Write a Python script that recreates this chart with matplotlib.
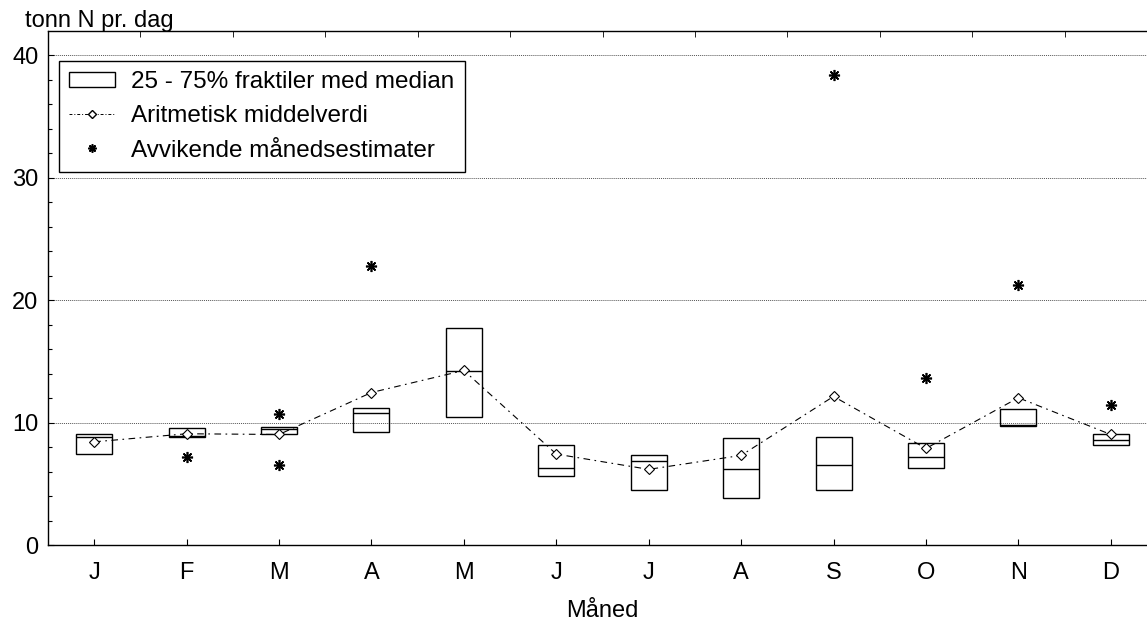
import matplotlib
matplotlib.use("Agg")
import matplotlib.pyplot as plt
from matplotlib.patches import Rectangle
from matplotlib.lines import Line2D
import numpy as np

plt.rcParams['font.family'] = ['Liberation Sans', 'DejaVu Sans']

months = ["J", "F", "M", "A", "M", "J", "J", "A", "S", "O", "N", "D"]
q25 = [7.40, 8.84, 9.03, 9.25, 10.42, 5.63, 4.49, 3.81, 4.52, 6.29, 9.72, 8.16]
median = [8.79, 8.90, 9.44, 10.80, 14.23, 6.31, 6.83, 6.18, 6.50, 7.21, 9.80, 8.57]
q75 = [9.06, 9.60, 9.63, 11.21, 17.77, 8.19, 7.32, 8.71, 8.82, 8.35, 11.13, 9.03]
mean = [8.43, 9.09, 9.03, 12.46, 14.26, 7.43, 6.18, 7.32, 12.14, 7.89, 12.03, 9.03]
outlier_month = [1, 2, 2, 3, 8, 9, 10, 11]
outlier_value = [7.18, 10.67, 6.53, 22.78, 38.37, 13.66, 21.28, 11.40]

FS = 17
fig = plt.figure(figsize=(11.47, 6.21), dpi=100)
ax = fig.add_axes([48/1147, 1-545/621, 1109/1147, 514/621])

x = np.arange(len(months))
w = 0.39
ax.bar(x, np.array(q75) - np.array(q25), bottom=q25, width=w, fill=False,
       edgecolor='black', linewidth=1.0, zorder=3)
ax.hlines(median, x - w/2, x + w/2, colors='black', linewidth=1.0, zorder=3)
ax.plot(x, mean, color='black', linestyle=(0, (6, 4, 1.5, 4)), linewidth=0.8,
        marker='D', markersize=5, markerfacecolor='white', markeredgecolor='black',
        markeredgewidth=0.8, zorder=4)
ax.plot(outlier_month, outlier_value, linestyle='none', marker=(8, 2, 0),
        markersize=8, markeredgewidth=1.2, color='black', zorder=4)

ax.set_xlim(-0.5, 11.5)
ax.set_ylim(0, 42)
ax.set_xticks(x)
ax.set_xticklabels(months, fontsize=FS)
ax.set_xticks(np.arange(-0.5, 12, 1), minor=True)
ax.set_yticks([0, 10, 20, 30, 40])
ax.set_yticks(np.arange(0, 42, 2), minor=True)
ax.tick_params(axis='y', labelsize=FS, length=4, direction='in', width=0.8, pad=7)
ax.tick_params(axis='y', which='minor', length=3, direction='in', width=0.8)
ax.tick_params(axis='x', which='major', length=4, direction='in', bottom=True, top=False, pad=12)
ax.tick_params(axis='x', which='minor', length=4, direction='in', bottom=False, top=True)
ax.grid(axis='y', which='major', linestyle=(0, (1, 1)), color='#555555', linewidth=0.7)
ax.set_axisbelow(True)
for s in ax.spines.values():
    s.set_linewidth(1.0)

ax.set_xlabel("Måned", fontsize=FS, labelpad=12)
fig.text(25/1147, 1-21/621, "tonn N pr. dag", fontsize=FS, va='center', ha='left')

handles = [Rectangle((0, 0), 1, 1, fill=False, edgecolor='black', linewidth=1.0),
           Line2D([], [], color='black', linestyle=(0, (3, 2, 1, 2)), linewidth=0.7,
                  marker='D', markersize=4, markerfacecolor='white', markeredgecolor='black'),
           Line2D([], [], linestyle='none', marker=(8, 2, 0), markersize=6,
                  markeredgewidth=1.2, color='black')]
labels = ["25 - 75% fraktiler med median", "Aritmetisk middelverdi", "Avvikende månedsestimater"]
leg = ax.legend(handles, labels, loc='upper left', bbox_to_anchor=(11/1109, 1-30/514),
                fontsize=17.5, fancybox=False, edgecolor='black', framealpha=1,
                borderaxespad=0, handlelength=1.9, handletextpad=0.65, labelspacing=0.5,
                borderpad=0.42, handleheight=0.6)
leg.get_frame().set_linewidth(1.0)

fig.savefig("out.png", dpi=100)
